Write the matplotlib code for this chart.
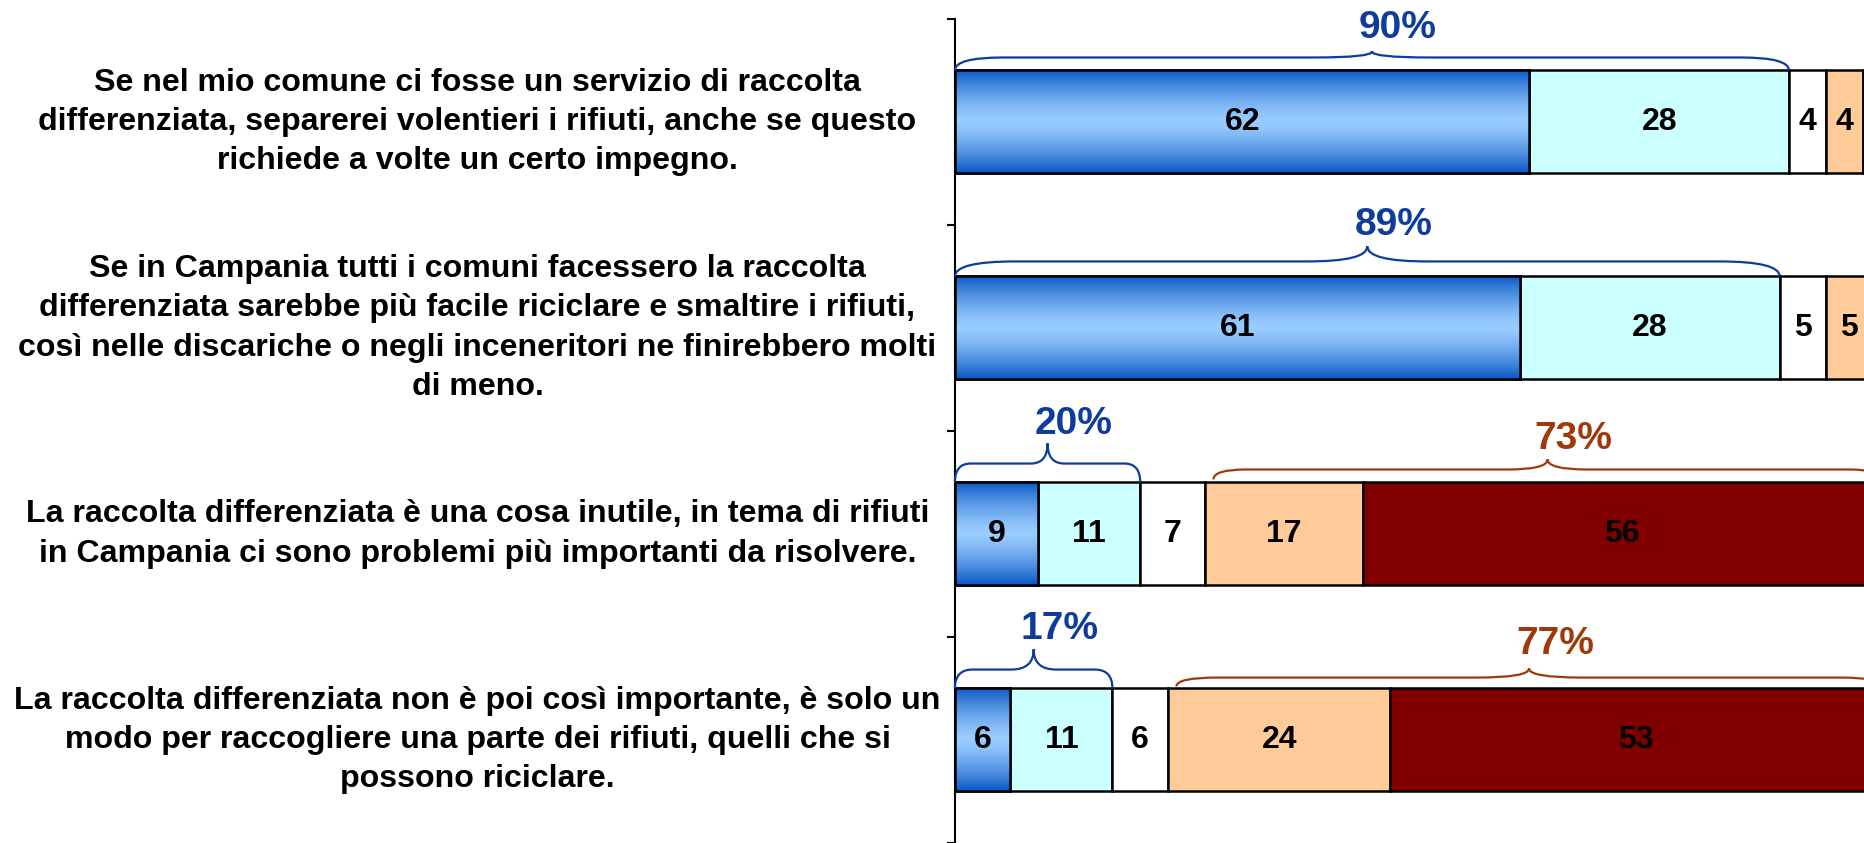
import numpy as np
import matplotlib.pyplot as plt
import matplotlib.transforms as mtransforms
from matplotlib.path import Path
from matplotlib.patches import PathPatch, Rectangle
from matplotlib.colors import LinearSegmentedColormap

plt.rcParams['font.family'] = ['Liberation Sans', 'DejaVu Sans']

# Affermazioni (una per riga, dall'alto in basso)
affermazioni = [
    "Se nel mio comune ci fosse un servizio di raccolta\n"
    "differenziata, separerei volentieri i rifiuti, anche se questo\n"
    "richiede a volte un certo impegno.",
    "Se in Campania tutti i comuni facessero la raccolta\n"
    "differenziata sarebbe più facile riciclare e smaltire i rifiuti,\n"
    "così nelle discariche o negli inceneritori ne finirebbero molti\n"
    "di meno.",
    "La raccolta differenziata è una cosa inutile, in tema di rifiuti\n"
    "in Campania ci sono problemi più importanti da risolvere.",
    "La raccolta differenziata non è poi così importante, è solo un\n"
    "modo per raccogliere una parte dei rifiuti, quelli che si\n"
    "possono riciclare.",
]

# Percentuali per modalità di risposta
molto_accordo = [62, 61, 9, 6]
abbastanza_accordo = [28, 28, 11, 11]
non_sa = [4, 5, 7, 6]
poco_accordo = [4, 5, 17, 24]
per_niente_accordo = [2, 1, 56, 53]

serie = [molto_accordo, abbastanza_accordo, non_sa, poco_accordo, per_niente_accordo]
colori = ['#99CCFF', '#CCFFFF', '#FFFFFF', '#FFCC99', '#800000']
blu = '#0D3B9E'
marrone = '#A0390A'

fig = plt.figure(figsize=(18.65, 8.43), dpi=100)
ax = fig.add_axes([0.512, 0.0, 0.488, 0.9775])

y = np.arange(len(affermazioni))
altezza = 0.5
sinistra = np.zeros(len(affermazioni))

# Sfumatura verticale per la prima serie
cmap = LinearSegmentedColormap.from_list('sfumatura', ['#0A58C6', '#99CCFF'])
t = np.linspace(-1, 1, 200)
grad = (1 - np.abs(t) ** 1.4).reshape(-1, 1)

for k, valori in enumerate(serie):
    barre = ax.barh(y, valori, left=sinistra, height=altezza, color=colori[k],
                    edgecolor='black', linewidth=1.8, zorder=2)
    for i, b in enumerate(barre):
        if k == 0:
            x0, y0 = b.get_x(), b.get_y()
            im = ax.imshow(grad, cmap=cmap, aspect='auto', zorder=2.5,
                           extent=(x0, x0 + b.get_width(), y0 + altezza, y0))
            im.set_clip_path(b)
            ax.add_patch(Rectangle((x0, y0), b.get_width(), altezza, fill=False,
                                   edgecolor='black', linewidth=1.8, zorder=3))
        ax.text(sinistra[i] + valori[i] / 2, y[i], str(valori[i]), ha='center',
                va='center', fontsize=23, fontweight='bold', color='black', zorder=4)
    sinistra = sinistra + np.array(valori)


def graffa(x0, x1, yb, h_end, h_mid, h_peak, rx, rp, colore):
    xm = (x0 + x1) / 2
    ye, ym, yp = yb - h_end, yb - h_mid, yb - h_peak
    verts = [(x0, ye), (x0, ym), (x0 + rx, ym),
             (xm - rp, ym), (xm, ym), (xm, yp),
             (xm, ym), (xm + rp, ym),
             (x1 - rx, ym), (x1, ym), (x1, ye)]
    codes = [Path.MOVETO, Path.CURVE3, Path.CURVE3,
             Path.LINETO, Path.CURVE3, Path.CURVE3,
             Path.CURVE3, Path.CURVE3,
             Path.LINETO, Path.CURVE3, Path.CURVE3]
    ax.add_patch(PathPatch(Path(verts, codes), fill=False, edgecolor=colore,
                           linewidth=1.6, zorder=5, clip_on=False))


# Graffe: (riga, gruppo, h_end, h_mid, h_peak, rx, rp, h_label)
graffe = [
    (0, 'acc', 0.0, 0.063, 0.092, 5.2, 6.3, 0.204),
    (1, 'acc', 0.0, 0.073, 0.146, 6.5, 6.5, 0.252),
    (2, 'acc', 0.0, 0.092, 0.190, 1.7, 1.8, 0.286),
    (2, 'dis', 0.015, 0.063, 0.112, 3.5, 4.3, 0.209),
    (3, 'acc', 0.0, 0.092, 0.190, 1.9, 2.4, 0.290),
    (3, 'dis', 0.010, 0.053, 0.097, 4.4, 5.7, 0.218),
]
for r, gruppo, he, hm, hp, rx, rp, hl in graffe:
    yb = y[r] - altezza / 2
    if gruppo == 'acc':
        x0 = 0.0
        x1 = molto_accordo[r] + abbastanza_accordo[r]
        tot = x1
        colore = blu
    else:
        x0 = molto_accordo[r] + abbastanza_accordo[r] + non_sa[r] + 0.9
        x1 = x0 - 0.9 + poco_accordo[r] + per_niente_accordo[r]
        tot = poco_accordo[r] + per_niente_accordo[r]
        colore = marrone
    graffa(x0, x1, yb, he, hm, hp, rx, rp, colore)
    ax.text((x0 + x1) / 2 + 2.8, yb - hl, f"{tot}%", ha='center', va='center',
            fontsize=28, fontweight='bold', color=colore, zorder=6)

# Etichette delle affermazioni a sinistra
trans = mtransforms.blended_transform_factory(fig.transFigure, ax.transData)
for i, testo in enumerate(affermazioni):
    ax.text(0.256, y[i], testo, transform=trans, ha='center', va='center',
            multialignment='center', fontsize=23.1, fontweight='bold',
            linespacing=1.41, clip_on=False)

ax.set_xlim(0, 98.2)
ax.set_ylim(len(affermazioni) - 0.5, -0.5)
ax.set_xticks([])
ax.set_yticks(np.arange(-0.5, len(affermazioni), 1.0))
ax.set_yticklabels([])
ax.tick_params(axis='y', direction='out', length=6, width=1.5)
for lato in ['top', 'right', 'bottom']:
    ax.spines[lato].set_visible(False)
ax.spines['left'].set_linewidth(1.5)

fig.savefig('out.png', dpi=100)
